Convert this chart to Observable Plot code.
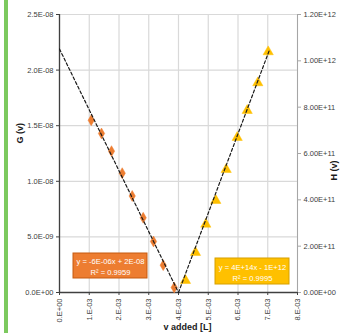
<!DOCTYPE html>
<html>
<head>
<meta charset="utf-8">
<script src="https://cdn.jsdelivr.net/npm/d3@7"></script>
<script src="https://cdn.jsdelivr.net/npm/@observablehq/plot@0.6"></script>
<style>
  html, body { margin: 0; padding: 0; background: #fff; }
  #wrap { position: relative; width: 341px; height: 333px; overflow: hidden; }
  #bar { position: absolute; left: 4px; top: 0; width: 4px; height: 333px; background: #7CC95F; }
  #chart { position: absolute; left: 0; top: 0; }
</style>
</head>
<body>
<div id="wrap"><div id="bar"></div><div id="chart"></div></div>
<script>
// ---- data ----
const vG = [1.066e-3, 1.412e-3, 1.748e-3, 2.108e-3, 2.444e-3, 2.813e-3, 3.160e-3, 3.486e-3, 3.855e-3];
const gVals = [1.549e-8, 1.430e-8, 1.271e-8, 1.073e-8, 8.68e-9, 6.72e-9, 4.59e-9, 2.46e-9, 4.5e-10];
const vH = [4.235e-3, 4.571e-3, 4.918e-3, 5.254e-3, 5.603e-3, 5.973e-3, 6.309e-3, 6.666e-3, 7.015e-3];
const hVals = [5.18e10, 1.727e11, 2.948e11, 3.971e11, 5.309e11, 6.691e11, 7.856e11, 9.052e11, 1.039e12];

// trendline end points (as drawn)
const gTrendV = [0, 4.0e-3];
const gTrendY = [2.19e-8, 0];
const hTrendV = [4.0e-3, 7.06e-3];
const hTrendY = [0, 1.048e12];

const xTicks = [0, 1e-3, 2e-3, 3e-3, 4e-3, 5e-3, 6e-3, 7e-3, 8e-3];
const xTickLabels = ["0.E+00", "1.E-03", "2.E-03", "3.E-03", "4.E-03", "5.E-03", "6.E-03", "7.E-03", "8.E-03"];
const gTicks = [0, 5e-9, 1e-8, 1.5e-8, 2e-8, 2.5e-8];
const gTickLabels = ["0.0E+00", "5.0E-09", "1.0E-08", "1.5E-08", "2.0E-08", "2.5E-08"];
const hTicks = [0, 2e11, 4e11, 6e11, 8e11, 1e12, 1.2e12];
const hTickLabels = ["0.00E+00", "2.00E+11", "4.00E+11", "6.00E+11", "8.00E+11", "1.00E+12", "1.20E+12"];

const gEquation = ["y = -6E-06x + 2E-08", "R² = 0.9959"];
const hEquation = ["y = 4E+14x - 1E+12", "R² = 0.9995"];
// label boxes in data units (x: v, y: G-axis units)
const gBox = {x1: 0.471e-3, x2: 2.958e-3, y1: 1.259e-9, y2: 3.507e-9};
const hBox = {x1: 5.244e-3, x2: 7.731e-3, y1: 0.719e-9, y2: 3.058e-9};

// ---- build ----
const gMax = 2.5e-8, hMax = 1.2e12;
const k = gMax / hMax; // secondary axis to primary axis
const gData = vG.map((v, i) => ({v, y: gVals[i]}));
const hData = vH.map((v, i) => ({v, y: hVals[i] * k}));
const gTrend = gTrendV.map((v, i) => ({v, y: gTrendY[i]}));
const hTrend = hTrendV.map((v, i) => ({v, y: hTrendY[i] * k}));
const hTicksScaled = hTicks.map(h => h * k);

const xLab = new Map(xTicks.map((t, i) => [t, xTickLabels[i]]));
const gLab = new Map(gTicks.map((t, i) => [t, gTickLabels[i]]));
const hLab = new Map(hTicksScaled.map((t, i) => [t, hTickLabels[i]]));

const tickColor = "#404040";
const font = "'Liberation Sans', Arial, sans-serif";

const boxLabel = (box, lines, fill, stroke) => [
  Plot.rect([box], {x1: "x1", x2: "x2", y1: "y1", y2: "y2", fill, stroke, strokeWidth: 1}),
  Plot.text([lines.join("\n")], {
    x: (box.x1 + box.x2) / 2, y: (box.y1 + box.y2) / 2,
    fill: "#fff", fontSize: 7.6, lineHeight: 1.45, textAnchor: "middle"
  })
];

const chart = Plot.plot({
  width: 341, height: 333,
  marginLeft: 59, marginRight: 44, marginTop: 14, marginBottom: 41,
  style: {fontFamily: font, fontSize: "7.5px", color: tickColor, background: "transparent"},
  x: {domain: [0, 8e-3]},
  y: {domain: [0, gMax]},
  marks: [
    Plot.frame({fill: "#fff", stroke: "none"}),
    Plot.gridX(xTicks, {stroke: "#D9D9D9", strokeOpacity: 1, strokeWidth: 1.2}),
    Plot.gridY(gTicks, {stroke: "#D9D9D9", strokeOpacity: 1, strokeWidth: 1.2}),
    Plot.ruleX([8e-3], {stroke: "#A6A6A6", strokeWidth: 1}),
    Plot.ruleX([0], {stroke: "#404040", strokeWidth: 1.3}),
    Plot.ruleY([0], {stroke: "#404040", strokeWidth: 1.3}),
    Plot.axisX(xTicks, {tickRotate: -90, tickSize: 3, tickPadding: 3, stroke: "#404040",
      tickFormat: d => xLab.get(d), label: null, fill: tickColor}),
    Plot.axisY(gTicks, {anchor: "left", tickSize: 3, tickPadding: 3, stroke: "#404040",
      tickFormat: d => gLab.get(d), label: null, fill: tickColor}),
    Plot.axisY(hTicksScaled, {anchor: "right", tickSize: 3, tickPadding: 3, stroke: "#A6A6A6",
      tickFormat: d => hLab.get(d), label: null, fill: tickColor}),
    Plot.dot(gData, {x: "v", y: "y", symbol: "diamond", r: 3.3, fill: "#ED7D31", stroke: "#ED7D31", strokeWidth: 0.5}),
    Plot.dot(hData, {x: "v", y: "y", symbol: "triangle", r: 3.8, fill: "#FFC000", stroke: "#FFC000", strokeWidth: 0.5}),
    Plot.line(gTrend, {x: "v", y: "y", stroke: "#1a1a1a", strokeWidth: 1.2, strokeDasharray: "3,2.2"}),
    Plot.line(hTrend, {x: "v", y: "y", stroke: "#1a1a1a", strokeWidth: 1.2, strokeDasharray: "3,2.2"}),
    ...boxLabel(gBox, gEquation, "#ED7D31", "#C55A11"),
    ...boxLabel(hBox, hEquation, "#FFC000", "#D6A000"),
    Plot.text(["v added [L]"], {frameAnchor: "bottom", dx: 9, dy: 37, fontSize: 9, fontWeight: "bold", fill: "#1a1a1a"}),
    Plot.text(["G (v)"], {frameAnchor: "left", rotate: -90, dx: -39, dy: -10, fontSize: 9, fontWeight: "bold", fill: "#1a1a1a"}),
    Plot.text(["H (v)"], {frameAnchor: "right", rotate: -90, dx: 37, dy: 7, fontSize: 9, fontWeight: "bold", fill: "#1a1a1a"})
  ]
});
document.getElementById("chart").appendChild(chart);
</script>
</body>
</html>
